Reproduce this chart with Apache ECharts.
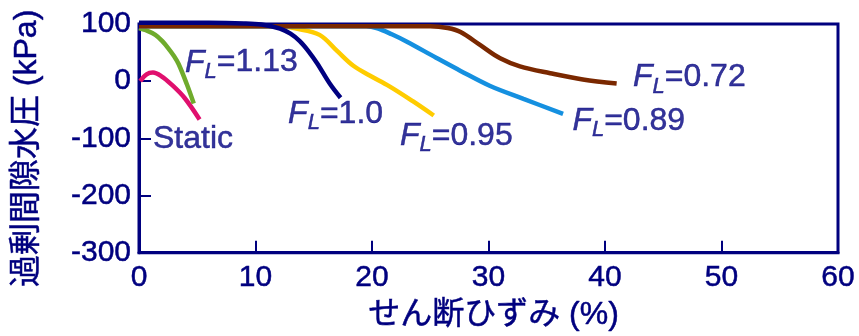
<!DOCTYPE html>
<html>
<head>
<meta charset="utf-8">
<script src="https://cdn.jsdelivr.net/npm/echarts@6/dist/echarts.min.js"></script>
<style>
html,body{margin:0;padding:0;background:#fff;}
#chart{width:859px;height:336px;}
</style>
</head>
<body>
<div id="chart"></div>
<script>
// x: shear strain (%), y: excess pore water pressure (kPa)
const staticData = [[0.1,0],[0.65,12],[1.2,15],[1.9,9],[2.8,-6],[3.9,-29],[5.2,-67]];
const fl113Data = [[0,93],[0.6,89],[1.4,81],[2.0,70],[2.5,58],[3.0,44],[3.4,30],[4.1,-5],[4.7,-39]];
const fl100Data = [[0,102],[6,102],[9,101],[10.5,99],[12.1,92],[13,83],[13.8,70],[14.6,51],[15.3,31],[16.4,-5],[17.3,-29]];
const fl095Data = [[0,96],[12,96],[13.5,92],[15.5,81],[17,53],[18.4,27],[19.8,10],[21.5,-9],[23.5,-35],[25.3,-60]];
const fl089Data = [[0,96],[19.5,96],[20.4,93],[21.7,82],[23,69],[25.5,41],[27.6,18],[30.1,-8],[33,-31],[36.4,-57]];
const fl072Data = [[0,96],[25,96],[26.5,93],[27.6,86],[29.3,63],[31,40],[32.7,26],[35.3,14],[38.1,3],[41,-4]];

const labelX = [3.95, 12.8, 22.4, 37.2, 42.4, 1.2];
const labelY = [32.5, -57, -95.6, -69.6, 6.6, -100.7];
const labelText = ['{f|F}{s|L}{n|=1.13}', '{f|F}{s|L}{n|=1.0}', '{f|F}{s|L}{n|=0.95}', '{f|F}{s|L}{n|=0.89}', '{f|F}{s|L}{n|=0.72}', '{n|Static}'];

const xTicks = [0, 10, 20, 30, 40, 50, 60];
const yTicks = [-300, -200, -100, 0, 100];

const NAVY = '#00007f';
const FONT = "'Liberation Sans', 'Noto Sans CJK JP', sans-serif";
const BOLDEN = {textBorderColor: NAVY, textBorderWidth: 0.5};

const chart = echarts.init(document.getElementById('chart'), null, {renderer: 'canvas'});

function lineSeries(name, data, color) {
  return {
    name: name, type: 'line', data: data, smooth: 0.35, showSymbol: false,
    clip: false, lineStyle: {color: color, width: 4.5}, itemStyle: {color: color},
    animation: false
  };
}

const annData = labelX.map((x, i) => [x, labelY[i], labelText[i]]);

chart.setOption({
  animation: false,
  grid: {left: 139, right: 21, top: 24, bottom: 81, show: true, borderColor: NAVY, borderWidth: 3, backgroundColor: 'transparent'},
  xAxis: {
    type: 'value', min: xTicks[0], max: xTicks[xTicks.length - 1], interval: 10,
    name: 'せん断ひずみ (%)', nameLocation: 'middle', nameGap: 46,
    nameTextStyle: Object.assign({color: NAVY, fontSize: 32, fontFamily: FONT, padding: [0, 0, 0, 10]}, BOLDEN),
    axisLine: {show: true, onZero: false, lineStyle: {color: NAVY, width: 3}},
    axisTick: {show: true, inside: true, length: 12, lineStyle: {color: NAVY, width: 2}},
    axisLabel: Object.assign({color: NAVY, fontSize: 30, fontFamily: FONT, margin: 10}, BOLDEN),
    splitLine: {show: false}
  },
  yAxis: {
    type: 'value', min: yTicks[0], max: yTicks[yTicks.length - 1], interval: 100,
    name: '過剰間隙水圧 (kPa)', nameLocation: 'middle', nameGap: 96, nameRotate: 90,
    nameTextStyle: Object.assign({color: NAVY, fontSize: 32, fontFamily: FONT, padding: [0, 20, 0, 0]}, BOLDEN),
    axisLine: {show: true, onZero: false, lineStyle: {color: NAVY, width: 3}},
    axisTick: {show: true, inside: true, length: 12, lineStyle: {color: NAVY, width: 2}},
    axisLabel: Object.assign({color: NAVY, fontSize: 30, fontFamily: FONT, margin: 8}, BOLDEN),
    splitLine: {show: false}
  },
  series: [
    lineSeries('Static', staticData, '#e0106e'),
    lineSeries('FL=1.13', fl113Data, '#6fab2c'),
    lineSeries('FL=0.95', fl095Data, '#ffcc00'),
    lineSeries('FL=0.89', fl089Data, '#1590e0'),
    lineSeries('FL=0.72', fl072Data, '#7a2800'),
    lineSeries('FL=1.0', fl100Data, '#000080'),
    {
      type: 'scatter', data: annData, symbolSize: 0, silent: true, clip: false,
      label: {
        show: true, position: 'right', distance: 0,
        formatter: p => p.data[2],
        rich: {
          f: Object.assign({fontSize: 32, fontStyle: 'italic', color: NAVY, fontFamily: FONT, lineHeight: 32, verticalAlign: 'top'}, BOLDEN),
          s: Object.assign({fontSize: 22, fontStyle: 'italic', color: NAVY, fontFamily: FONT, lineHeight: 22, verticalAlign: 'top', padding: [14, 0, 0, 0]}, BOLDEN),
          n: Object.assign({fontSize: 32, color: NAVY, fontFamily: FONT, lineHeight: 32, verticalAlign: 'top'}, BOLDEN)
        }
      }
    }
  ]
});
</script>
</body>
</html>
